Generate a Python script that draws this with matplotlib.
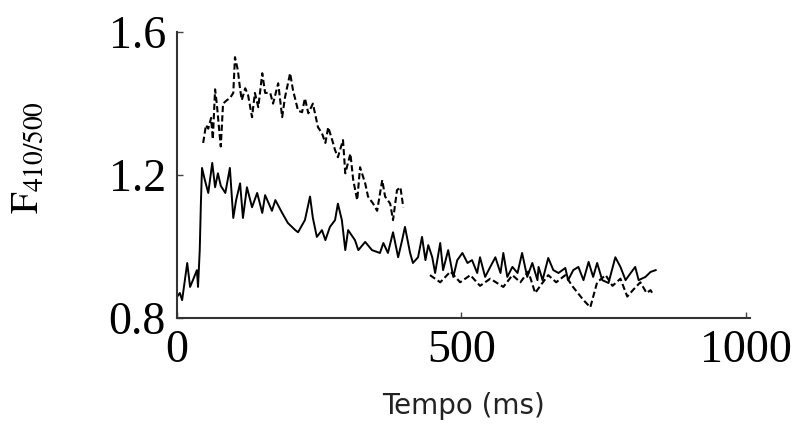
import numpy as np
import matplotlib.pyplot as plt

# solid trace (ms, F410/500)
solid_t = [0, 5, 9, 18, 23, 28, 35, 37, 40, 42, 44, 49, 55, 62, 67, 72, 77, 85, 93,
           99, 104, 111, 116, 123, 132, 141, 150, 155, 167, 173, 185, 195, 208, 213,
           220, 225, 234, 239, 246, 255, 261, 269, 278, 283, 290, 296, 301, 313, 319,
           331, 343, 357, 363, 371, 380, 389, 396, 401, 410, 415, 424, 431, 437, 442,
           449, 454, 463, 468, 477, 486, 493, 502, 511, 519, 528, 533, 542, 551, 560,
           569, 574, 581, 590, 599, 607, 616, 625, 634, 636, 643, 653, 662, 671, 683,
           688, 697, 706, 715, 724, 732, 739, 748, 759, 771, 780, 789, 798, 806, 812,
           824, 833, 842]
solid_v = [0.859, 0.87, 0.85, 0.954, 0.887, 0.906, 0.934, 0.887, 0.99, 1.12, 1.22,
           1.186, 1.15, 1.234, 1.166, 1.205, 1.17, 1.15, 1.22, 1.08, 1.13, 1.177, 1.08,
           1.166, 1.11, 1.15, 1.094, 1.144, 1.10, 1.13, 1.094, 1.066, 1.046, 1.04, 1.06,
           1.074, 1.14, 1.08, 1.027, 1.046, 1.018, 1.055, 1.074, 1.12, 1.074, 0.99,
           1.046, 1.018, 0.99, 1.013, 0.99, 0.982, 1.01, 0.982, 1.04, 0.97, 1.018,
           1.055, 0.982, 0.954, 0.97, 1.027, 0.962, 1.004, 0.97, 0.926, 1.01, 0.934,
           0.99, 0.915, 0.962, 0.982, 0.954, 0.962, 0.926, 0.97, 0.915, 0.943, 0.97,
           0.926, 0.982, 0.915, 0.943, 0.926, 0.982, 0.915, 0.954, 0.906, 0.943, 0.906,
           0.968, 0.934, 0.926, 0.94, 0.906, 0.934, 0.943, 0.906, 0.957, 0.915, 0.954,
           0.906, 0.898, 0.97, 0.943, 0.906, 0.926, 0.943, 0.906, 0.915, 0.929, 0.934]

# dashed trace, with a gap between ~400 and ~445 ms
dash_t = [46, 51, 55, 60, 63, 67, 70, 74, 77, 81, 88, 93, 99, 102, 107, 111, 114, 120,
          125, 132, 137, 143, 150, 155, 164, 169, 178, 185, 190, 199, 204, 213, 220,
          225, 231, 239, 248, 255, 261, 266, 273, 278, 283, 292, 296, 305, 310, 317,
          322, 331, 336, 345, 352, 361, 366, 375, 380, 387, 393, 398,
          420,
          445, 463, 481, 498, 516, 533, 551, 574, 590, 604, 618, 630, 639, 653, 667,
          683, 695, 715, 727, 739, 754, 766, 780, 792, 803, 815, 826, 833, 838]
dash_v = [1.29, 1.34, 1.33, 1.36, 1.30, 1.44, 1.40, 1.33, 1.28, 1.40, 1.41, 1.415,
          1.43, 1.53, 1.494, 1.44, 1.41, 1.443, 1.424, 1.362, 1.43, 1.39, 1.485, 1.43,
          1.43, 1.40, 1.457, 1.362, 1.418, 1.485, 1.438, 1.38, 1.376, 1.415, 1.373,
          1.40, 1.334, 1.317, 1.29, 1.334, 1.298, 1.27, 1.25, 1.298, 1.205, 1.26,
          1.186, 1.13, 1.222, 1.177, 1.14, 1.12, 1.10, 1.186, 1.14, 1.12, 1.074, 1.158,
          1.166, 1.11,
          np.nan,
          0.92, 0.90, 0.93, 0.90, 0.92, 0.89, 0.91, 0.887, 0.92, 0.90, 0.93, 0.87,
          0.89, 0.92, 0.90, 0.92, 0.89, 0.85, 0.83, 0.90, 0.92, 0.89, 0.91, 0.86,
          0.88, 0.90, 0.87, 0.878, 0.864]

x_ticks = [0, 500, 1000]
y_ticks = [0.8, 1.2, 1.6]

plt.rcParams['mathtext.fontset'] = 'stix'

fig = plt.figure(figsize=(8.06, 4.26), dpi=100)
ax = fig.add_axes([0.2196, 0.2535, 0.711, 0.671])

ax.plot(solid_t, solid_v, color='black', lw=1.4)
ax.plot(dash_t, dash_v, color='black', lw=1.5, linestyle=(0, (3, 1.5)))

ax.set_xlim(0, 1008)
ax.set_ylim(0.8, 1.6)
ax.set_xticks(x_ticks)
ax.set_yticks(y_ticks)
ax.set_xticklabels([str(v) for v in x_ticks], family='Liberation Serif', fontsize=33)
ax.set_yticklabels([f'{v:.1f}' for v in y_ticks], family='Liberation Serif', fontsize=33)
ax.tick_params(direction='in', length=4, width=1, pad=8, color='#444444')

for side in ['top', 'right']:
    ax.spines[side].set_visible(False)
for side in ['left', 'bottom']:
    ax.spines[side].set_linewidth(1.5)
    ax.spines[side].set_color('#333333')

ax.set_ylabel(r'$\mathrm{F}_{410/500}$', fontsize=28)
ax.yaxis.set_label_coords(-0.228, 0.56)
ax.set_xlabel('Tempo (ms)', family='DejaVu Sans', fontsize=20, color='#222222')
ax.xaxis.set_label_coords(0.5, -0.258)

plt.savefig('out.png', dpi=100)
